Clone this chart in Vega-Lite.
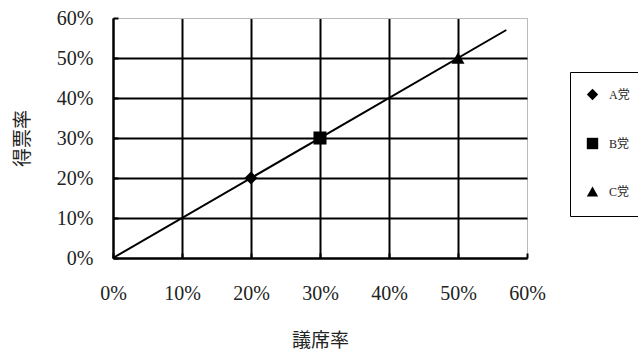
{
  "$schema": "https://vega.github.io/schema/vega-lite/v6.json",
  "width": 414,
  "height": 240,
  "autosize": "none",
  "padding": {"left": 113, "top": 18, "right": 111, "bottom": 94},
  "background": "white",
  "config": {
    "font": "Liberation Serif, Noto Sans CJK JP",
    "view": {"stroke": "#bbbbbb", "strokeWidth": 1},
    "axis": {
      "labelFont": "Liberation Serif",
      "labelFontSize": 20,
      "labelColor": "#222",
      "labelOverlap": false,
      "labelFlush": false,
      "labelBound": false,
      "titleFont": "Noto Sans CJK JP",
      "titleFontSize": 19,
      "titleFontWeight": "normal",
      "titleColor": "#222",
      "domainColor": "black",
      "domainWidth": 2,
      "tickColor": "black",
      "tickWidth": 2,
      "gridWidth": 2,
      "gridOpacity": 1
    }
  },
  "datasets": {
    "line": [{"x": 0, "y": 0}, {"x": 0.57, "y": 0.57}],
    "pts": [
      {"party": "A党", "x": 0.2, "y": 0.2},
      {"party": "B党", "x": 0.3, "y": 0.3},
      {"party": "C党", "x": 0.5, "y": 0.5}
    ]
  },
  "encoding": {
    "x": {
      "field": "x", "type": "quantitative",
      "scale": {"domain": [0, 0.6], "nice": false},
      "axis": {
        "title": "議席率", "format": ".0%", "values": [0, 0.1, 0.2, 0.3, 0.4, 0.5, 0.6],
        "grid": true, "labelOverlap": false, "tickCount": 7,
        "gridColor": {"condition": {"test": "datum.value >= 0.59", "value": "#bbbbbb"}, "value": "black"},
        "gridWidth": {"condition": {"test": "datum.value >= 0.59", "value": 1}, "value": 2},
        "tickSize": -5, "labelPadding": 30, "titlePadding": 28
      }
    },
    "y": {
      "field": "y", "type": "quantitative",
      "scale": {"domain": [0, 0.6], "nice": false},
      "axis": {
        "title": "得票率", "format": ".0%", "values": [0, 0.1, 0.2, 0.3, 0.4, 0.5, 0.6],
        "grid": true, "labelOverlap": false, "tickCount": 7,
        "gridColor": {"condition": {"test": "datum.value >= 0.59", "value": "#bbbbbb"}, "value": "black"},
        "gridWidth": {"condition": {"test": "datum.value >= 0.59", "value": 1}, "value": 2},
        "tickSize": -5, "labelPadding": 25, "titlePadding": 24
      }
    }
  },
  "layer": [
    {
      "data": {"name": "line"},
      "mark": {"type": "line", "color": "black", "strokeWidth": 2}
    },
    {
      "data": {"name": "pts"},
      "mark": {"type": "point", "filled": true, "opacity": 1, "color": "black", "size": 170},
      "encoding": {
        "shape": {
          "field": "party", "type": "nominal",
          "scale": {"domain": ["A党", "B党", "C党"], "range": ["diamond", "square", "triangle-up"]},
          "legend": {
            "title": null,
            "orient": "none",
            "legendX": 457,
            "legendY": 54,
            "padding": 16,
            "rowPadding": 30,
            "strokeColor": "black",
            "fillColor": "white",
            "labelFont": "Liberation Serif, Noto Sans CJK JP",
            "labelFontSize": 12,
            "labelColor": "#222",
            "symbolSize": 130,
            "symbolFillColor": "black",
            "symbolStrokeColor": "black",
            "labelOffset": 10,
            "encode": {"legend": {"update": {"strokeWidth": {"value": 1.5}}}}
          }
        }
      }
    }
  ]
}
